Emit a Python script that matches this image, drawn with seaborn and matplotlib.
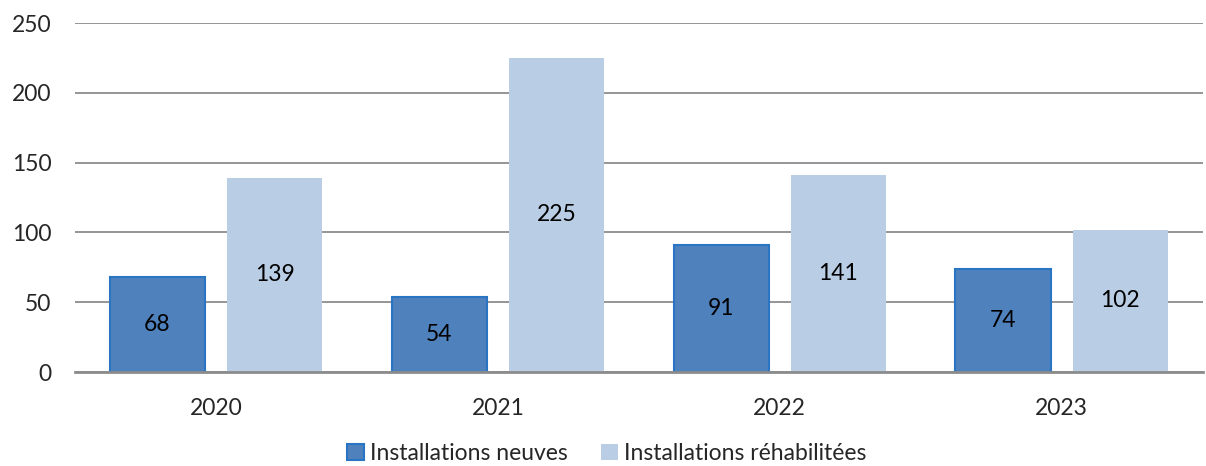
import matplotlib
matplotlib.use("Agg")
from matplotlib import pyplot as plt
import seaborn as sns
import pandas as pd

years = ["2020", "2021", "2022", "2023"]
neuves = [68, 54, 91, 74]
rehab = [139, 225, 141, 102]
series_names = ["Installations neuves", "Installations réhabilitées"]
y_ticks = [0, 50, 100, 150, 200, 250]

df = pd.DataFrame({
    "annee": years * 2,
    "valeur": neuves + rehab,
    "serie": [series_names[0]] * len(years) + [series_names[1]] * len(years),
})

sns.set_theme(style="white")
plt.rcParams["font.family"] = ["Lato", "DejaVu Sans"]

fig = plt.figure(figsize=(12.06, 4.66), dpi=100)
ax = fig.add_axes([0.0622, 0.2017, 0.935, 0.7489])

sns.barplot(data=df, x="annee", y="valeur", hue="serie",
            palette=["#4F81BD", "#B9CDE5"], width=0.833, gap=0.19,
            saturation=1, linewidth=0, ax=ax)

# contour bleu sur les barres foncees seulement
for p in ax.containers[0]:
    p.set_edgecolor("#2A74C4")
    p.set_linewidth(1.5)

for c in ax.containers:
    ax.bar_label(c, label_type="center", fontsize=16.5, color="black")

ax.set_ylim(0, 250)
ax.set_xlim(-0.5, 3.5)
ax.set_yticks(y_ticks)
ax.yaxis.grid(True, color="#8C8C8C", linewidth=1.3)
ax.set_axisbelow(True)
for s in ["top", "right", "left"]:
    ax.spines[s].set_visible(False)
ax.spines["bottom"].set_color("#8C8C8C")
ax.spines["bottom"].set_linewidth(2)
ax.spines["bottom"].set_zorder(3)
ax.tick_params(axis="y", length=0, pad=17, labelsize=16.5)
ax.tick_params(axis="x", length=0, pad=19, labelsize=16.5)
ax.set_xlabel("")
ax.set_ylabel("")

ax.get_legend().remove()
handles = [ax.containers[0][0], ax.containers[1][0]]
fig.legend(handles, series_names, loc="lower center", bbox_to_anchor=(0.503, -0.04),
           ncol=2, frameon=False, fontsize=16.5, handlelength=0.75, handleheight=0.75,
           handletextpad=0.25, columnspacing=1.45)

fig.savefig("out.png", dpi=100)
